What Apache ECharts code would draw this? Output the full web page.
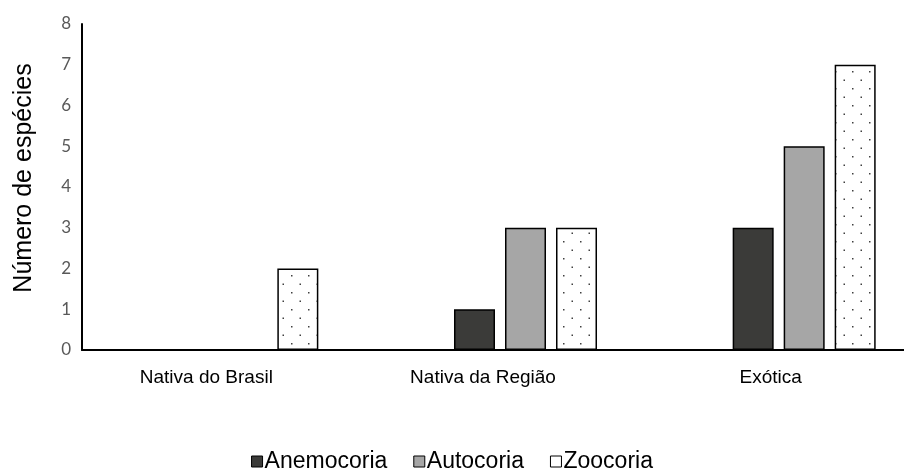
<!DOCTYPE html>
<html>
<head>
<meta charset="utf-8">
<script src="https://cdn.jsdelivr.net/npm/echarts@6/dist/echarts.min.js"></script>
<style>html,body{margin:0;padding:0;background:#fff}#c{width:904px;height:470px}</style>
</head>
<body>
<div id="c"></div>
<script>
const categories = ['Nativa do Brasil', 'Nativa da Região', 'Exótica'];
const anemocoria = [null, 1, 3];
const autocoria = [null, 3, 5];
const zoocoria = [2, 3, 7];
const emptySeries = [null, null, null];
const yTicks = [0, 1, 2, 3, 4, 5, 6, 7, 8];
const labelShift = [15, 17, 8];

function dotPattern() {
  const c = document.createElement('canvas');
  c.width = 17; c.height = 17;
  const ctx = c.getContext('2d');
  ctx.fillStyle = '#ffffff';
  ctx.fillRect(0, 0, 17, 17);
  ctx.fillStyle = '#404040';
  ctx.fillRect(2, 3, 1.5, 1.5);
  ctx.fillRect(10.5, 11.5, 1.5, 1.5);
  return c;
}

const chart = echarts.init(document.getElementById('c'), null, {renderer: 'canvas'});
const font = "'Liberation Sans', Arial, sans-serif";
chart.setOption({
  animation: false,
  backgroundColor: '#ffffff',
  grid: {left: 82, top: 24, width: 836, bottom: 120, containLabel: false, outerBoundsMode: 'none'},
  legend: {
    top: 445, left: 'center', icon: 'rect', itemWidth: 11, itemHeight: 11, itemGap: 26,
    textStyle: {fontFamily: font, fontSize: 23, color: '#000', padding: [0, 0, 0, -3]},
    data: [
      {name: 'Anemocoria', itemStyle: {color: '#3b3b39', borderColor: '#000', borderWidth: 1}},
      {name: 'Autocoria', itemStyle: {color: '#a6a6a6', borderColor: '#000', borderWidth: 1}},
      {name: 'Zoocoria', itemStyle: {color: '#ffffff', borderColor: '#000', borderWidth: 1}}
    ]
  },
  xAxis: {
    type: 'category',
    data: categories.map((c, i) => ({value: c, textStyle: {padding: [0, labelShift[i] * 2, 0, 0]}})),
    axisLine: {lineStyle: {color: '#000', width: 2}},
    axisTick: {show: false},
    axisLabel: {fontFamily: font, fontSize: 19, color: '#000', margin: 18, interval: 0}
  },
  yAxis: {
    type: 'value', min: yTicks[0], max: yTicks[yTicks.length - 1], interval: 1,
    name: 'Número de espécies', nameLocation: 'middle', nameGap: 45,
    nameTextStyle: {fontFamily: font, fontSize: 25, color: '#000', padding: [0, 0, 0, 18]},
    axisLine: {show: true, lineStyle: {color: '#000', width: 2}},
    axisTick: {show: false},
    splitLine: {show: false},
    axisLabel: {fontFamily: "Lato, 'Liberation Sans', sans-serif", fontSize: 17, color: '#595959', margin: 11}
  },
  series: [
    {name: '_', type: 'bar', data: emptySeries, barWidth: 41, barGap: '24.4%', silent: true},
    {name: 'Anemocoria', type: 'bar', data: anemocoria, barWidth: 41, barGap: '24.4%',
      itemStyle: {color: '#3b3b39', borderColor: '#000', borderWidth: 1.5}},
    {name: 'Autocoria', type: 'bar', data: autocoria, barWidth: 41, barGap: '24.4%',
      itemStyle: {color: '#a6a6a6', borderColor: '#000', borderWidth: 1.5}},
    {name: 'Zoocoria', type: 'bar', data: zoocoria, barWidth: 41, barGap: '24.4%',
      itemStyle: {color: {image: dotPattern(), repeat: 'repeat'}, borderColor: '#000', borderWidth: 1.5}}
  ]
});
</script>
</body>
</html>
